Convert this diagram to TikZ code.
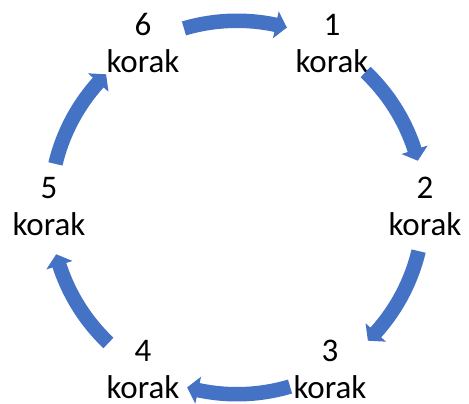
\documentclass[tikz,border=0pt]{standalone}
\usepackage{fontspec}
\setmainfont{Carlito}
\definecolor{arrowblue}{HTML}{4472C4}
\begin{document}
\begin{tikzpicture}[x=1pt,y=1pt,
  steplabel/.style={align=center, inner sep=0pt, font=\fontsize{33}{37}\selectfont, anchor=base},
  cyclearrow/.style={fill=arrowblue, draw=none}]
\useasboundingbox[fill=white] (0,0) rectangle (469,404);
\coordinate (C) at (237,196.5);
\node[steplabel] (s1) at (332,331.5) {1\\korak};
\node[steplabel] (s2) at (425,168) {2\\korak};
\node[steplabel] (s3) at (330,5) {3\\korak};
\node[steplabel] (s4) at (143,5) {4\\korak};
\node[steplabel] (s5) at (49,168) {5\\korak};
\node[steplabel] (s6) at (143,331.5) {6\\korak};
\foreach \m in {90,30,-30,-90,-150,150} {
  \pgfmathsetmacro{\aS}{\m+16.5}
  \pgfmathsetmacro{\aB}{\m-12}
  \pgfmathsetmacro{\aT}{\m-15.5}
  \fill[cyclearrow, shift={(C)}] (\aS:194) arc[start angle=\aS, end angle=\aB, radius=194]
    -- (\aB:200.5) -- (\aT:186.75) -- (\aB:173) -- (\aB:179.5)
    arc[start angle=\aB, end angle=\aS, radius=179.5] -- cycle;
}
\end{tikzpicture}
\end{document}
